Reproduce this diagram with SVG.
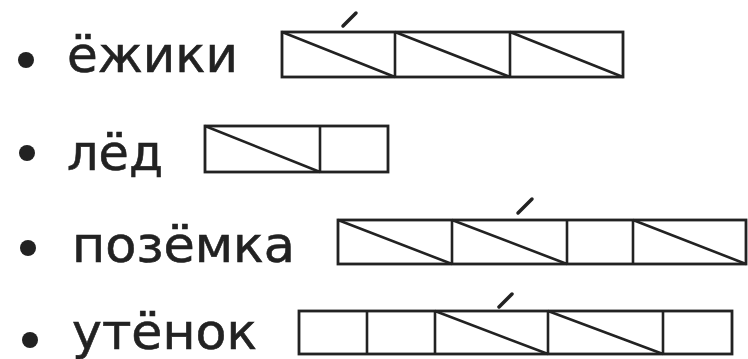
<svg xmlns="http://www.w3.org/2000/svg" width="748" height="359" viewBox="0 0 748 359">
<style>
.t{font-family:"DejaVu Sans","Verdana",sans-serif;font-size:50px;fill:#222;stroke:#222;stroke-width:0.6}
.b{fill:#222}
.box{fill:none;stroke:#222;stroke-width:2.8}
.ln{stroke:#222;stroke-width:2.6;fill:none}
.acc{stroke:#222;stroke-width:3.5;stroke-linecap:round}
</style>
<rect width="748" height="359" fill="#fff"/>
<g id="row1">
<circle class="b" cx="26" cy="60" r="8"/>
<text class="t" x="67" y="72" textLength="171" lengthAdjust="spacingAndGlyphs">ёжики</text>
<rect class="box" x="282" y="32" width="341" height="45"/>
<path class="ln" d="M395 32V77M510 32V77M282 32L395 77M395 32L510 77M510 32L623 77"/>
<line class="acc" x1="343" y1="26" x2="356" y2="13"/>
</g>
<g id="row2">
<circle class="b" cx="27" cy="153" r="8"/>
<text class="t" x="67" y="170" textLength="96" lengthAdjust="spacingAndGlyphs">лёд</text>
<rect class="box" x="205" y="126" width="183" height="46"/>
<path class="ln" d="M320 126V172M205 126L320 172"/>
</g>
<g id="row3">
<circle class="b" cx="28" cy="248" r="8"/>
<text class="t" x="72" y="262" textLength="223" lengthAdjust="spacingAndGlyphs">позёмка</text>
<rect class="box" x="338" y="220" width="408" height="44"/>
<path class="ln" d="M452 220V264M567 220V264M633 220V264M338 220L452 264M452 220L567 264M633 220L746 264"/>
<line class="acc" x1="518" y1="213" x2="532" y2="199"/>
</g>
<g id="row4">
<circle class="b" cx="30" cy="340" r="8"/>
<text class="t" x="72" y="349" textLength="185" lengthAdjust="spacingAndGlyphs">утёнок</text>
<rect class="box" x="299" y="311" width="433" height="43"/>
<path class="ln" d="M367 311V354M435 311V354M548 311V354M663 311V354M435 311L548 354M548 311L663 354"/>
<line class="acc" x1="499" y1="307" x2="512" y2="294"/>
</g>
</svg>
